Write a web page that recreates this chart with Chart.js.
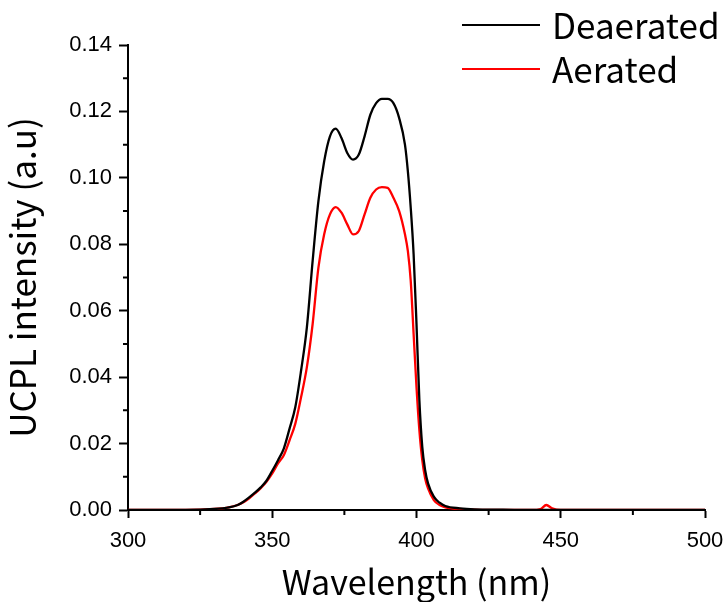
<!DOCTYPE html>
<html>
<head>
<meta charset="utf-8">
<script src="https://cdn.jsdelivr.net/npm/chart.js@4.4.0/dist/chart.umd.min.js"></script>
<style>
  html, body { margin: 0; padding: 0; background: #fff; }
  #wrap { width: 728px; height: 602px; position: relative; }
</style>
</head>
<body>
<div id="wrap"><canvas id="chart" width="728" height="602"></canvas></div>
<script>
// emission spectra, wavelength in nm
var wavelength = [300, 310, 320, 330, 335, 338, 340, 342, 344, 346, 348, 350, 352, 354, 356, 358,
  360, 362, 364, 366, 368, 370, 372, 374, 376, 378, 380, 382, 384, 386, 388, 390, 392, 394,
  396, 397, 398, 399, 400, 401, 402, 403, 404, 406, 408, 410, 415, 420, 430, 440, 443, 445,
  447, 450, 460, 480, 500];
var deaerated = [0, 0, 0, 0.0003, 0.0008, 0.0015, 0.0025, 0.0038, 0.0052, 0.0068, 0.0088, 0.0118,
  0.0150, 0.0185, 0.0245, 0.0310, 0.0420, 0.0550, 0.0750, 0.0930, 0.1050, 0.1125, 0.1148,
  0.1120, 0.1075, 0.1055, 0.1070, 0.1125, 0.1190, 0.1225, 0.1238, 0.1238, 0.1225, 0.1180,
  0.1100, 0.1020, 0.0910, 0.0770, 0.0560, 0.0330, 0.0190, 0.0120, 0.0080, 0.0040, 0.0022,
  0.0012, 0.0005, 0.0002, 0.0001, 0, 0, 0, 0, 0, 0, 0, 0];
var aerated = [0, 0, 0, 0.0003, 0.0008, 0.0015, 0.0023, 0.0035, 0.0050, 0.0066, 0.0085, 0.0110,
  0.0140, 0.0165, 0.0210, 0.0260, 0.0340, 0.0430, 0.0560, 0.0730, 0.0830, 0.0890, 0.0912,
  0.0895, 0.0860, 0.0830, 0.0840, 0.0890, 0.0940, 0.0965, 0.0972, 0.0970, 0.0940, 0.0900,
  0.0830, 0.0780, 0.0690, 0.0530, 0.0370, 0.0240, 0.0150, 0.0095, 0.0065, 0.0030, 0.0015,
  0.0008, 0.0003, 0.0001, 0, 0, 0.0003, 0.0015, 0.0005, 0, 0, 0, 0];
var xTicks = [300, 350, 400, 450, 500];
var xMinor = [325, 375, 425, 475];
var yTicks = [0, 0.02, 0.04, 0.06, 0.08, 0.10, 0.12, 0.14];
var yMinor = [0.01, 0.03, 0.05, 0.07, 0.09, 0.11, 0.13];

var numFont = "'Liberation Sans', Arial, sans-serif";
var textFont = "'Noto Sans CJK JP', 'Noto Sans', sans-serif";

function points(ys) {
  return wavelength.map(function(w, i) { return {x: w, y: ys[i]}; });
}

// short minor ticks between the labelled ones
var minorTicks = {
  id: 'minorTicks',
  afterDraw: function(chart) {
    var ctx = chart.ctx, xs = chart.scales.x, ys = chart.scales.y;
    ctx.save();
    ctx.strokeStyle = '#000';
    ctx.lineWidth = 2;
    ctx.beginPath();
    xMinor.forEach(function(v) {
      var px = xs.getPixelForValue(v);
      ctx.moveTo(px, ys.bottom); ctx.lineTo(px, ys.bottom + 5);
    });
    yMinor.forEach(function(v) {
      var py = ys.getPixelForValue(v);
      ctx.moveTo(xs.left, py); ctx.lineTo(xs.left - 5, py);
    });
    ctx.stroke();
    ctx.restore();
  }
};

// legend in the top right corner, over the plot
var lineLegend = {
  id: 'lineLegend',
  afterDraw: function(chart) {
    var ctx = chart.ctx;
    ctx.save();
    ctx.font = '35px ' + textFont;
    ctx.textBaseline = 'middle';
    chart.data.datasets.forEach(function(ds, i) {
      var y = 25 + i * 44;
      ctx.strokeStyle = ds.borderColor;
      ctx.lineWidth = 2;
      ctx.beginPath();
      ctx.moveTo(462, y); ctx.lineTo(540, y);
      ctx.stroke();
      ctx.fillStyle = '#000';
      ctx.fillText(ds.label, 552, y + 1);
    });
    ctx.restore();
  }
};

new Chart(document.getElementById('chart'), {
  type: 'line',
  data: {
    datasets: [
      {label: 'Deaerated', data: points(deaerated), borderColor: '#000000'},
      {label: 'Aerated', data: points(aerated), borderColor: '#ff0000'}
    ]
  },
  options: {
    responsive: false,
    animation: false,
    layout: {padding: {top: 45, right: 23, left: 0, bottom: 0}},
    elements: {
      point: {radius: 0},
      line: {borderWidth: 2.3, cubicInterpolationMode: 'monotone', fill: false}
    },
    plugins: {legend: {display: false}, tooltip: {enabled: false}},
    scales: {
      x: {
        type: 'linear', min: 300, max: 500,
        afterFit: function(s) { s.height = 92; s.paddingLeft = 0; s.paddingRight = 0; },
        afterBuildTicks: function(s) { s.ticks = xTicks.map(function(v) { return {value: v}; }); },
        border: {display: true, color: '#000', width: 2},
        grid: {drawOnChartArea: false, drawTicks: true, tickLength: 8, tickWidth: 2, tickColor: '#000'},
        ticks: {color: '#000', font: {family: numFont, size: 22}, padding: 10, maxRotation: 0},
        title: {display: true, text: 'Wavelength (nm)', color: '#000',
                font: {family: textFont, size: 34}, padding: {top: 0, bottom: 0}}
      },
      y: {
        type: 'linear', min: 0, max: 0.14,
        afterFit: function(s) { s.width = 128; },
        afterBuildTicks: function(s) { s.ticks = yTicks.map(function(v) { return {value: v}; }); },
        border: {display: true, color: '#000', width: 2},
        grid: {drawOnChartArea: false, drawTicks: true, tickLength: 9, tickWidth: 2, tickColor: '#000'},
        ticks: {color: '#000', font: {family: numFont, size: 22}, padding: 7,
                callback: function(v) { return v.toFixed(2); }},
        title: {display: true, text: 'UCPL intensity (a.u)', color: '#000',
                font: {family: textFont, size: 35}, padding: {top: 2, bottom: 0}}
      }
    }
  },
  plugins: [minorTicks, lineLegend]
});
</script>
</body>
</html>
